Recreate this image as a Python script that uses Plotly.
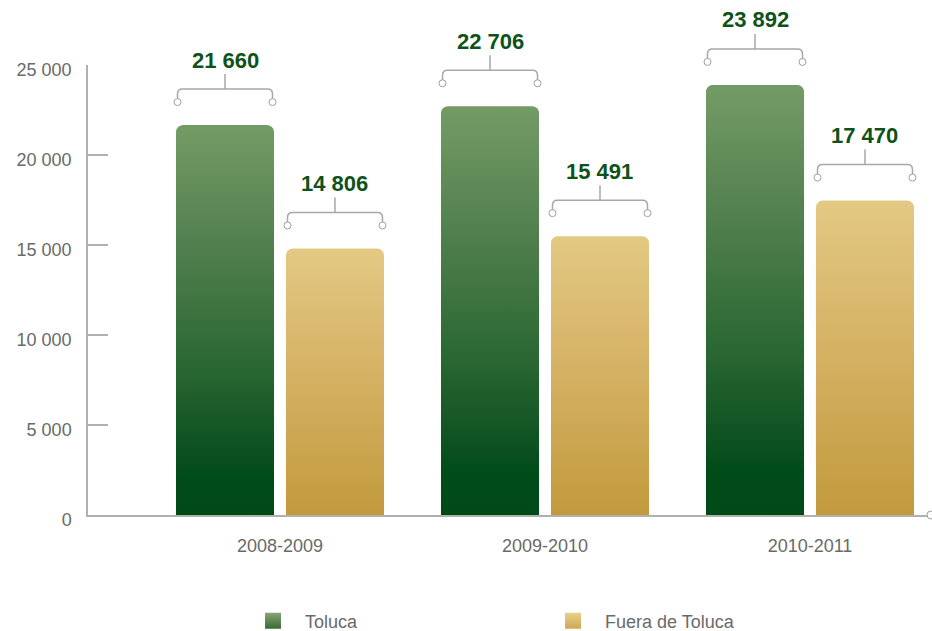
import math
import plotly.graph_objects as go

# ---- data ----
periods = ["2008-2009", "2009-2010", "2010-2011"]
toluca = [21660, 22706, 23892]
fuera = [14806, 15491, 17470]
series_names = ["Toluca", "Fuera de Toluca"]
y_ticks = [0, 5000, 10000, 15000, 20000, 25000]

# ---- style / layout constants ----
W, H = 932, 631
ML, MR, MT, MB = 88, 5, 65, 116
PW = W - ML - MR
PH = H - MT - MB
X0, X1 = -0.7245, 2.4415
Y0, Y1 = 0, 25000
xpp = (X1 - X0) / PW  # data units per pixel (x)
ypp = (Y1 - Y0) / PH  # data units per pixel (y)
BAR_W = 0.37
OFFSET = 0.2075
CORNER_PX = 7

green_scale = [[0, "#004a18"], [0.1, "#004c19"], [0.16, "#0c5020"],
               [0.415, "#2e6a35"], [0.67, "#4f7e4c"], [1, "#749b66"]]
gold_scale = [[0, "#c29a3d"], [0.5, "#d4b062"], [1, "#e3c984"]]
legend_colors = [("#86a676", "#3a6a36"), ("#e8d08a", "#cfa852")]
label_color = "#0d5218"
axis_color = "#b0b0b0"
text_color = "#6a6a6a"


def fmt(v):
    return f"{v:,}".replace(",", " ")


def rounded_bar(xc, h):
    xl, xr = xc - BAR_W / 2, xc + BAR_W / 2
    rx, ry = CORNER_PX * xpp, CORNER_PX * ypp
    xs, ys = [xl, xl], [0, h - ry]
    n = 8
    for i in range(1, n + 1):
        t = math.pi - (math.pi / 2) * i / n
        xs.append(xl + rx + rx * math.cos(t))
        ys.append(h - ry + ry * math.sin(t))
    xs.append(xr - rx)
    ys.append(h)
    for i in range(1, n + 1):
        t = math.pi / 2 - (math.pi / 2) * i / n
        xs.append(xr - rx + rx * math.cos(t))
        ys.append(h - ry + ry * math.sin(t))
    xs += [xr, xl]
    ys += [0, 0]
    return xs, ys


fig = go.Figure()
shapes = []
annotations = []

series = [(toluca, green_scale, -OFFSET, series_names[0]),
          (fuera, gold_scale, OFFSET, series_names[1])]

for vals, scale, off, name in series:
    for i, v in enumerate(vals):
        xc = i + off
        xs, ys = rounded_bar(xc, v)
        fig.add_trace(go.Scatter(
            x=xs, y=ys, mode="none", fill="toself",
            fillgradient=dict(type="vertical", colorscale=scale, start=0, stop=v),
            showlegend=False, legendgroup=name, hoverinfo="skip",
        ))
        yfrac = (v - Y0) / (Y1 - Y0)  # position on the y domain
        # bracket
        shapes.append(dict(
            type="path", xref="x", yref="paper", xsizemode="pixel", ysizemode="pixel",
            xanchor=xc, yanchor=yfrac,
            path="M -47.5,26 L -47.5,31 Q -47.5,36 -42.5,36 L 42.5,36 Q 47.5,36 47.5,31 L 47.5,26 M 0,36 L 0,51",
            line=dict(color="#a8a8a8", width=1.5),
        ))
        for cx in (-47.5, 47.5):
            shapes.append(dict(
                type="circle", xref="x", yref="paper", xsizemode="pixel", ysizemode="pixel",
                xanchor=xc, yanchor=yfrac, x0=cx - 3.5, x1=cx + 3.5, y0=19.5, y1=26.5,
                fillcolor="white", line=dict(color="#a0a0a0", width=1),
            ))
        annotations.append(dict(
            x=xc, y=v, yshift=65, text=fmt(v), showarrow=False,
            font=dict(size=22, color=label_color, family="Liberation Sans, Arial", weight="bold"),
            xanchor="center", yanchor="middle",
        ))

# legend entries
for (vals, scale, off, name), (ctop, cbot) in zip(series, legend_colors):
    fig.add_trace(go.Scatter(
        x=[None], y=[None], mode="markers", name=name, legendgroup=name,
        marker=dict(symbol="square", size=17, color=ctop,
                    gradient=dict(type="vertical", color=cbot)),
    ))

# circle at x-axis end
shapes.append(dict(
    type="circle", xref="paper", yref="paper", xsizemode="pixel", ysizemode="pixel",
    xanchor=1, yanchor=0, x0=0, x1=8, y0=-4, y1=4,
    fillcolor="white", line=dict(color="#a0a0a0", width=1),
))

fig.update_layout(
    width=W, height=H,
    margin=dict(l=ML, r=MR, t=MT, b=MB, autoexpand=False),
    paper_bgcolor="white", plot_bgcolor="white",
    separators=", ",
    font=dict(family="Liberation Sans, Arial", size=18, color=text_color),
    showlegend=True,
    legend=dict(orientation="h", x=0.1824, xanchor="left", y=-0.2356, yanchor="middle",
                itemwidth=54, entrywidth=231, entrywidthmode="pixels",
                font=dict(size=18, color=text_color), bgcolor="rgba(0,0,0,0)"),
    shapes=shapes,
    annotations=annotations,
    xaxis=dict(range=[X0, X1], tickvals=[0, 1, 2], ticktext=periods, automargin=False,
               showgrid=False, zeroline=False, showline=True, linecolor=axis_color,
               linewidth=1.5, ticks="", ticklabelstandoff=14,
               tickfont=dict(size=18, color=text_color)),
    yaxis=dict(range=[Y0, Y1], tickvals=y_ticks, tickformat=",d", automargin=False,
               showgrid=False, zeroline=False, showline=True, linecolor=axis_color,
               linewidth=1.5, ticks="inside", ticklen=20, tickwidth=1.5, tickcolor=axis_color,
               ticklabelstandoff=11, ticklabelshift=5,
               tickfont=dict(size=18, color=text_color)),
)

fig.write_html("out.html", config={"displayModeBar": False},
               post_script="document.body.style.margin='0';")
